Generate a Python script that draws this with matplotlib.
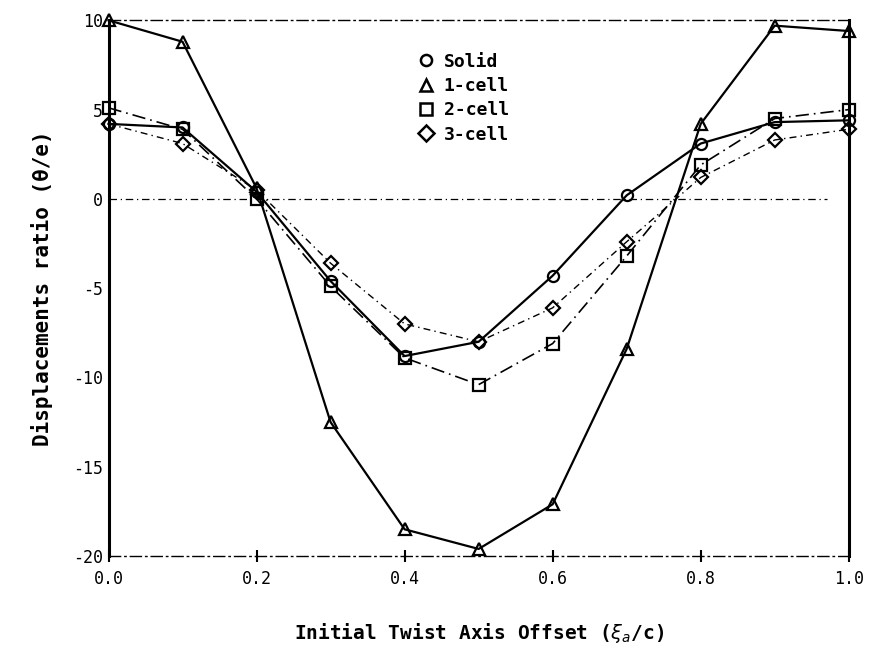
import numpy as np
import matplotlib
matplotlib.use("Agg")
import matplotlib.pyplot as plt
from matplotlib.lines import Line2D

# twist axis offset (ea/c)
x = [0.0, 0.1, 0.2, 0.3, 0.4, 0.5, 0.6, 0.7, 0.8, 0.9, 1.0]

# displacement ratio (theta/e)
solid = [4.2, 4.0, 0.4, -4.6, -8.8, -8.0, -4.3, 0.2, 3.1, 4.3, 4.4]
cell1 = [10.0, 8.8, 0.6, -12.5, -18.5, -19.6, -17.1, -8.4, 4.2, 9.7, 9.4]
cell2 = [5.1, 3.9, 0.0, -4.9, -8.9, -10.4, -8.1, -3.2, 1.9, 4.5, 5.0]
cell3 = [4.2, 3.1, 0.5, -3.6, -7.0, -8.0, -6.1, -2.4, 1.2, 3.3, 3.9]

names = ["Solid", "1-cell", "2-cell", "3-cell"]
xticks = [0.0, 0.2, 0.4, 0.6, 0.8, 1.0]
yticks = [10, 5, 0, -5, -10, -15, -20]

fuente = "DejaVu Sans Mono"

fig = plt.figure(figsize=(8.75, 6.55), dpi=100)
ax = fig.add_axes([0.124, 0.151, 0.846, 0.818])

ax.axhline(0, 0, 0.97, color="black", lw=0.9, ls=(0, (6, 3, 1, 3)))

ax.plot(x, solid, color="black", lw=1.6, ls="-", marker="o", ms=8,
        mfc="none", mew=1.6, clip_on=False)
ax.plot(x, cell1, color="black", lw=1.6, ls="-", marker="^", ms=9,
        mfc="none", mew=1.6, clip_on=False)
ax.plot(x, cell2, color="black", lw=1.2, ls=(0, (8, 3, 1, 3)), marker="s", ms=8,
        mfc="none", mew=1.6, clip_on=False)
ax.plot(x, cell3, color="black", lw=1.0, ls=(0, (5, 3, 1, 3)), marker="D", ms=7,
        mfc="none", mew=1.6, clip_on=False)

ax.set_xlim(0, 1.0)
ax.set_ylim(-20, 10)
ax.set_xticks(xticks)
ax.set_xticklabels(["%.1f" % v for v in xticks], fontsize=12, family=fuente)
ax.set_yticks(yticks)
ax.set_yticklabels([str(v) for v in yticks], fontsize=12, family=fuente)
ax.tick_params(axis="x", direction="inout", length=8, width=1.5, pad=6)
ax.tick_params(axis="y", length=0, pad=4)

ax.spines["left"].set_linewidth(2.2)
ax.spines["right"].set_linewidth(2.2)
ax.spines["top"].set_linewidth(1.0)
ax.spines["top"].set_linestyle((0, (8, 3, 1, 3)))
ax.spines["bottom"].set_linewidth(1.0)
ax.spines["bottom"].set_linestyle((0, (8, 3, 1, 3)))

ax.set_ylabel("Displacements ratio (\u03b8/e)", fontsize=15, fontweight="bold",
              family=fuente, labelpad=14)
ax.set_xlabel(r"Initial Twist Axis Offset ($\xi_a$/c)", fontsize=14,
              fontweight="bold", family=fuente, labelpad=24)

marcas = ["o", "^", "s", "D"]
handles = [Line2D([], [], color="black", ls="none", marker=m, ms=8, mfc="none",
                  mew=1.8) for m in marcas]
ax.legend(handles, names, loc="upper center", bbox_to_anchor=(0.48, 0.97),
          frameon=False, handlelength=0.8, handletextpad=0.6, labelspacing=0.35,
          prop={"family": fuente, "weight": "bold", "size": 13})

fig.savefig("out.png", dpi=100)
